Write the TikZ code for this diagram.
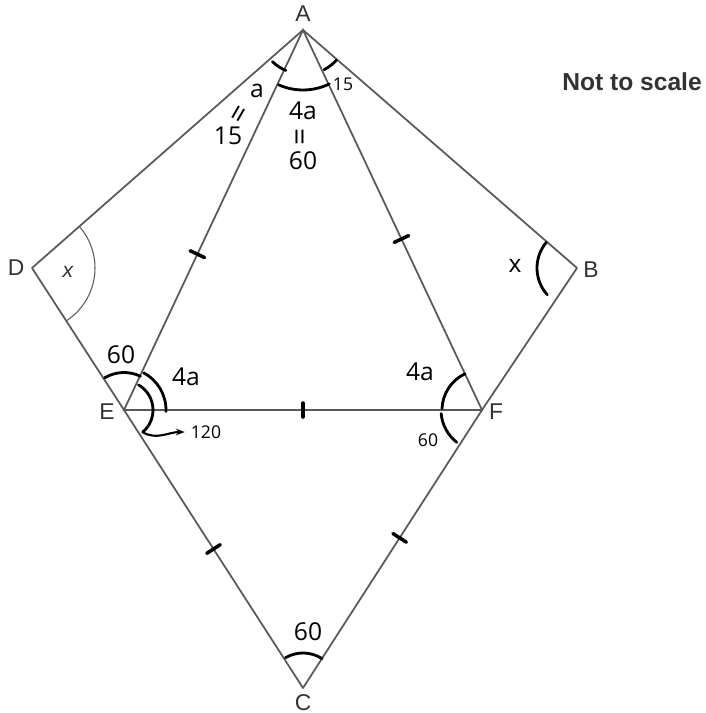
\documentclass[tikz,border=0pt]{standalone}
\usepackage{fontspec}
\setmainfont{Liberation Sans}
\newfontfamily\handfont{Open Sans}
\usetikzlibrary{calc, arrows.meta}

\begin{document}
\begin{tikzpicture}[
	lado/.style={black!65, line width=1pt},
	mano/.style={black, line width=1.6pt, line cap=round},
	marca/.style={black, line width=2pt, line cap=round},
	vert/.style={font=\fontsize{13}{14}\selectfont, text=black!80},
	etq/.style={font=\handfont\fontsize{14}{15}\selectfont},
	etqs/.style={font=\handfont\fontsize{10}{11}\selectfont},
	igual/.style={font=\handfont\fontsize{17}{18}\selectfont, inner sep=0pt}]
			\useasboundingbox (0,0) rectangle (14.1,14.26);

			% V\'ertices
			\coordinate (A) at (6.06,13.66);
			\coordinate (D) at (0.64,8.90);
			\coordinate (B) at (11.54,8.90);
			\coordinate (E) at (2.48,6.06);
			\coordinate (F) at (9.64,6.06);
			\coordinate (C) at (6.06,0.50);

			% Lados
			\draw[lado, line join=round] (A) -- (D) -- (E) -- (C) -- (F) -- (B) -- cycle;
			\draw[lado] (A) -- (E) -- (F) -- cycle;

			% Nombres
			\node[vert] (nA) at (6.06,13.98) {A};
			\node[vert] (nD) at (0.32,8.90) {D};
			\node[vert] (nB) at (11.82,8.86) {B};
			\node[vert] (nE) at (2.14,6.02) {E};
			\node[vert] (nF) at (9.92,6.02) {F};
			\node[vert] (nC) at (6.06,0.20) {C};
			\node[font=\bfseries\fontsize{14}{16}\selectfont, text=black!80] (escala) at (12.64,12.62) {Not to scale};

			% \'Angulo impreso en D
			\draw[black!65, line width=0.6pt] ([shift={(41.3:1.26)}]D) arc[start angle=41.3, end angle=-57, radius=1.26];
			\node[font=\itshape\fontsize{12}{13}\selectfont, text=black!80] (xD) at (1.36,8.82) {x};

			% Marcas de lados iguales
			\draw[marca] ($(A)!0.59!(E)!0.16cm!90:(E)$) -- ($(A)!0.59!(E)!0.16cm!-90:(E)$);
			\draw[marca] ($(A)!0.55!(F)!0.16cm!90:(F)$) -- ($(A)!0.55!(F)!0.16cm!-90:(F)$);
			\draw[marca] ($(E)!0.5!(F)!0.14cm!90:(F)$) -- ($(E)!0.5!(F)!0.14cm!-90:(F)$);
			\draw[marca] ($(E)!0.5!(C)!0.16cm!90:(C)$) -- ($(E)!0.5!(C)!0.16cm!-90:(C)$);
			\draw[marca] ($(F)!0.46!(C)!0.16cm!90:(C)$) -- ($(F)!0.46!(C)!0.16cm!-90:(C)$);

			% \'Angulos en A
			\draw[mano] ([shift={(226:0.88)}]A) arc[start angle=226, end angle=247, radius=0.88];
			\draw[mano] ([shift={(246:1.2)}]A) arc[start angle=246, end angle=296, radius=1.2];
			\draw[mano] ([shift={(298:0.9)}]A) arc[start angle=298, end angle=318, radius=0.9];
			\node[etq] (a1) at (5.14,12.44) {a};
			\node[igual, rotate=60] (igual1) at (4.82,11.96) {=};
			\node[etq] (q1) at (4.56,11.54) {15};
			\node[etq] (cuatroA) at (6.06,12.04) {4a};
			\node[igual, rotate=90] (igual2) at (6.06,11.52) {=};
			\node[etq] (sesentaA) at (6.06,11.04) {60};
			\node[etqs] (q2) at (6.86,12.58) {15};

			% \'Angulo en B
			\draw[mano] ([shift={(140:0.8)}]B) arc[start angle=140, end angle=222, radius=0.8];
			\node[etq] (xB) at (10.30,8.94) {x};

			% \'Angulos en E
			\draw[mano] ([shift={(64:0.75)}]E) arc[start angle=64, end angle=121, radius=0.75];
			\draw[mano] ([shift={(62:0.84)}]E) arc[start angle=62, end angle=-2, radius=0.84];
			\draw[mano] ([shift={(60:0.58)}]E) arc[start angle=60, end angle=-50, radius=0.58] coordinate (flecha);
			\node[etq] (sesentaE) at (2.42,7.16) {60};
			\node[etq] (cuatroE) at (3.72,6.72) {4a};
			\node[etqs] (ciento) at (4.12,5.62) {120};
			\draw[black, line width=1.2pt, -{Stealth[length=5pt]}] (flecha) to[out=-30, in=180] (ciento.west);

			% \'Angulos en F
			\draw[mano] ([shift={(115:0.8)}]F) arc[start angle=115, end angle=178, radius=0.8];
			\draw[mano] ([shift={(185:0.82)}]F) arc[start angle=185, end angle=232, radius=0.82];
			\node[etq] (cuatroF) at (8.40,6.82) {4a};
			\node[etqs] (sesentaF) at (8.56,5.46) {60};

			% \'Angulo en C
			\draw[mano] ([shift={(57:0.7)}]C) arc[start angle=57, end angle=120, radius=0.7];
			\node[etq] (sesentaC) at (6.16,1.62) {60};
		\end{tikzpicture}
\end{document}
